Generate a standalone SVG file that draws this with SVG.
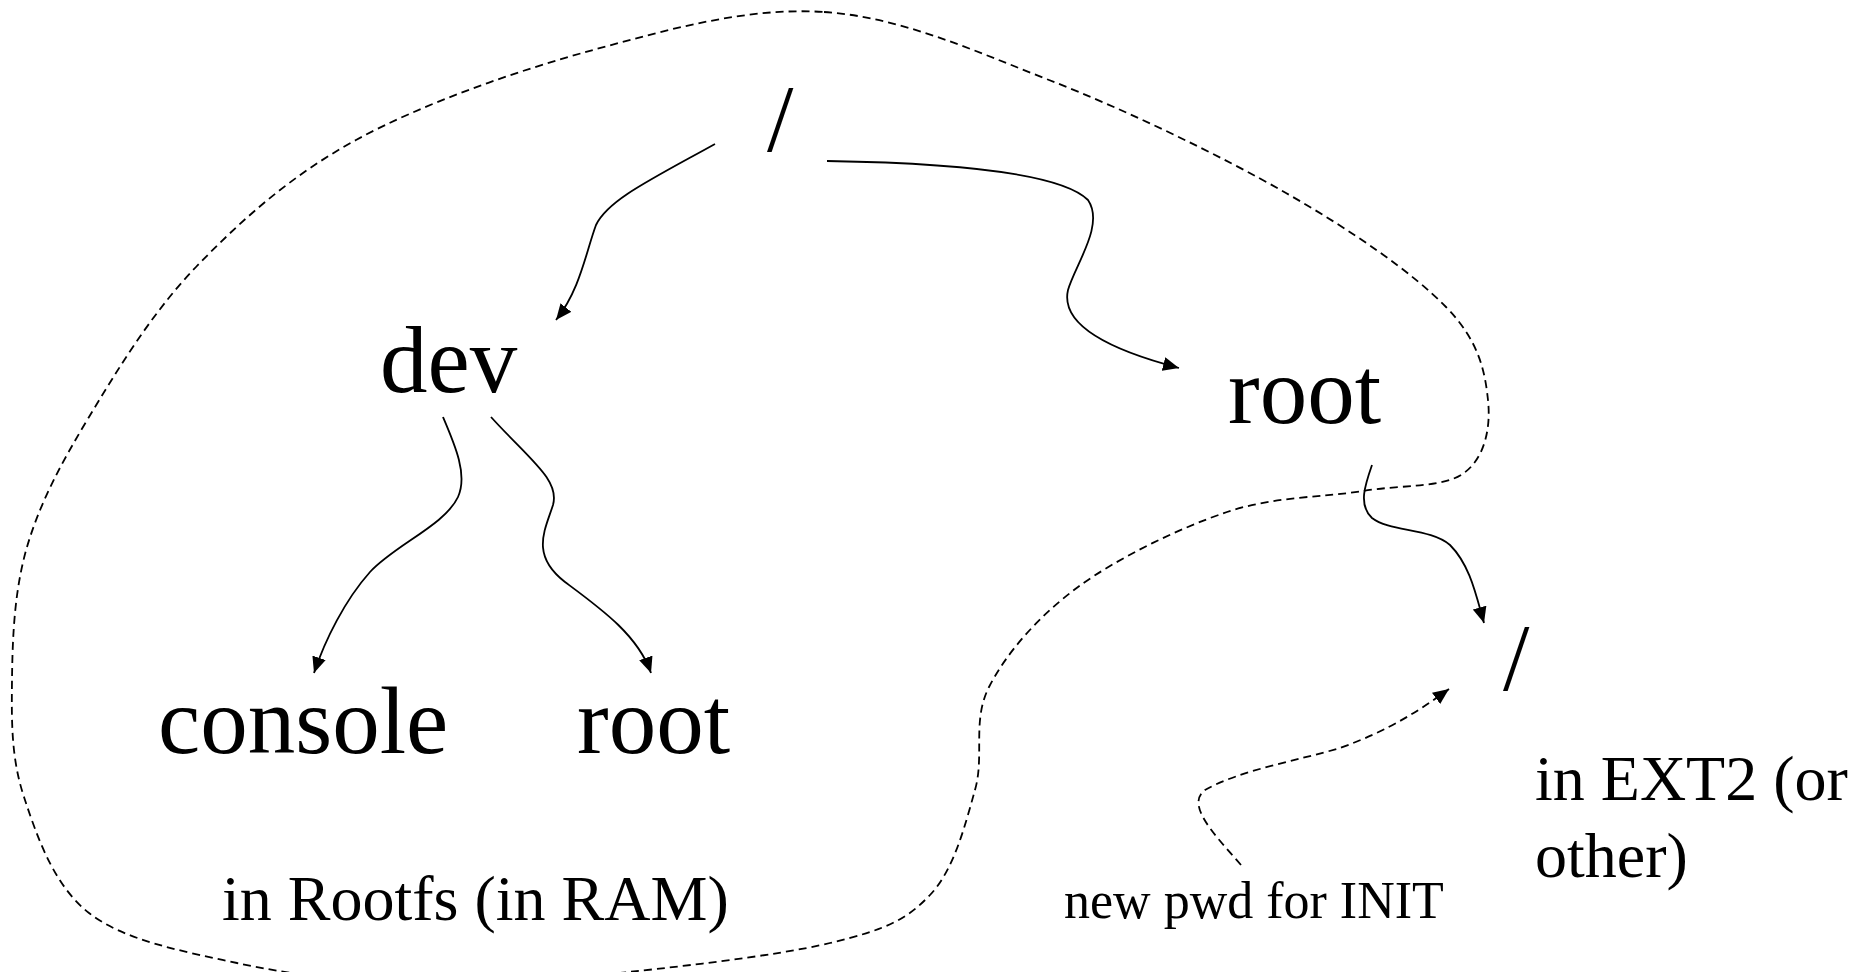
<svg xmlns="http://www.w3.org/2000/svg" width="1858" height="972" viewBox="0 0 1858 972">
<style>
  .t { font-family: "Liberation Serif", "Times New Roman", serif; fill: #000; }
  .big { font-size: 95px; }
  .mid { font-size: 64px; }
  .small { font-size: 52px; }
  .edge { fill: none; stroke: #000; stroke-width: 1.8; }
  .dash { fill: none; stroke: #000; stroke-width: 1.8; stroke-dasharray: 8 5; }
</style>
<defs>
  <marker id="ah" markerUnits="userSpaceOnUse" markerWidth="17" markerHeight="14" refX="16" refY="7" orient="auto">
    <path d="M0,0 L16,7 L0,14 z" fill="#000"/>
  </marker>
</defs>
<rect width="1858" height="972" fill="#fff"/>

<g id="boundary">
  <path class="dash" d="M824,12 C900,17 972,49.8 1049,80 C1126,110 1219.8,155.2 1286,193 C1352.2,230.8 1412.3,272.5 1446,307 C1479.7,341.5 1485,372.3 1488,400 C1491,427.7 1484.8,457.8 1464,473 C1443.2,488.2 1402.5,484.5 1363,491 C1323.5,497.5 1274.5,496 1227,512 C1179.5,528 1117.7,557.8 1078,587 C1038.3,616.2 1006.2,653.2 989,687 C971.8,720.8 984.8,755.3 975,790 C965.2,824.7 954.2,869.5 930,895 C905.8,920.5 885,929.7 830,943 C775,956.3 668.3,968 600,975 C531.7,982 480.5,987 420,985 C359.5,983 292.2,975 237,963 C181.8,951 124.5,940.7 89,913 C53.5,885.3 36.8,835.8 24,797 C11.2,758.2 11.5,721.7 12,680 C12.5,638.3 14.2,590.8 27,547 C39.8,503.2 60.8,463.7 89,417 C117.2,370.3 151.5,313.2 196,267 C240.5,220.8 289.8,176.2 356,140 C422.2,103.8 515,71.3 593,50 C671,28.7 748,7 824,12 Z"/>
</g>

<g id="connectors">
  <path class="edge" marker-end="url(#ah)" d="M715,144 C650,180 608,200 596,225 C586,252 580,290 556,320"/>
  <path class="edge" marker-end="url(#ah)" d="M827,161 C950,163 1060,172 1088,200 C1105,225 1075,265 1068,290 C1060,325 1110,350 1179,368"/>
  <path class="edge" marker-end="url(#ah)" d="M443,417 C455,445 468,475 458,497 C445,525 395,545 370,572 C345,600 325,640 314,673"/>
  <path class="edge" marker-end="url(#ah)" d="M491,417 C530,460 560,480 553,505 C545,530 530,555 565,582 C600,608 638,635 651,673"/>
  <path class="edge" marker-end="url(#ah)" d="M1372,465 C1365,485 1358,505 1372,518 C1390,532 1430,528 1450,545 C1470,565 1476,595 1484,623"/>
  <path class="dash" marker-end="url(#ah)" d="M1241,865 C1215,835 1185,805 1205,790 C1240,770 1300,760 1340,748 C1390,730 1420,710 1449,689"/>
</g>

<g id="node-root-slash"><text class="t big" x="767" y="151">/</text></g>
<g id="node-dev"><text class="t big" x="380" y="392">dev</text></g>
<g id="node-root-dir"><text class="t big" x="1228" y="423">root</text></g>
<g id="node-console"><text class="t big" x="158" y="753">console</text></g>
<g id="node-dev-root"><text class="t big" x="577" y="753">root</text></g>
<g id="node-ext2-slash"><text class="t big" x="1503" y="690">/</text></g>
<g id="label-rootfs"><text class="t mid" x="222" y="920">in Rootfs (in RAM)</text></g>
<g id="label-pwd"><text class="t small" x="1064" y="918">new pwd for INIT</text></g>
<g id="label-ext2"><text class="t mid" x="1535" y="800">in EXT2 (or</text><text class="t mid" x="1535" y="877">other)</text></g>
</svg>
